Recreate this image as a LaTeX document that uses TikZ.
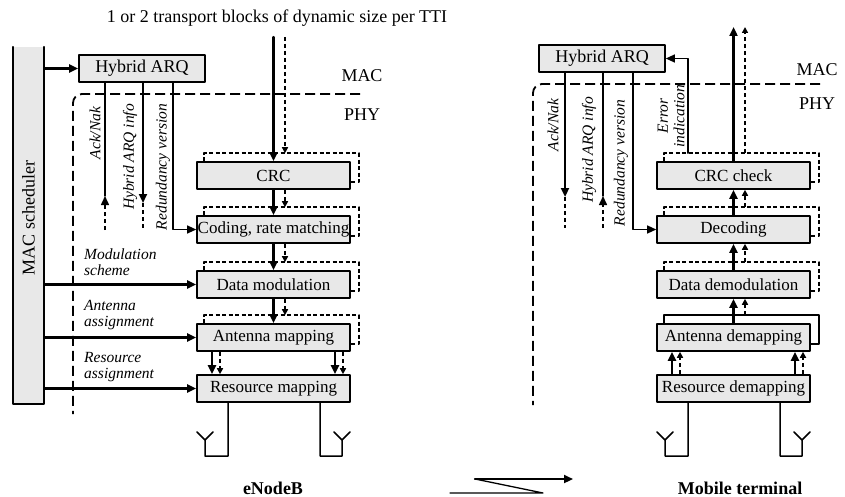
\documentclass[tikz,border=0pt]{standalone}
\usepackage{fontspec}
\setmainfont{Liberation Serif}
\usetikzlibrary{arrows.meta}

\tikzset{
  blk/.style={draw,line width=1.6pt,fill=black!9,minimum width=153pt,minimum height=27pt,inner sep=0pt,font=\fontsize{17}{20}\selectfont},
  harq/.style={blk,minimum width=126pt,font=\fontsize{18}{20}\selectfont},
  txt/.style={font=\fontsize{18}{20}\selectfont},
  lbl/.style={font=\fontsize{15.5}{16.5}\selectfont\itshape,inner sep=0pt},
  flow/.style={line width=2.2pt,->},
  ctrl/.style={line width=1.2pt,->},
  dline/.style={line width=1.5pt,line cap=butt,dash pattern=on 4pt off 3pt},
  dflow/.style={dline,-{Triangle[length=6pt,width=6pt]}},
  shade/.style={line width=1.5pt,line cap=butt,dash pattern=on 4pt off 2.5pt},
  layer/.style={line width=1.8pt,line cap=butt,dash pattern=on 10pt off 5pt},
}
\newcommand{\blkshade}[2][shade]{\draw[#1] ([xshift=8pt]#2.north west) |- ([xshift=8pt,yshift=8pt]#2.north east) |- ([yshift=8pt]#2.south east);}

\begin{document}
\begin{tikzpicture}[line cap=round,line join=round,>={Triangle[length=9pt,width=8pt]},x=1pt,y=-1pt]
\useasboundingbox (0,0) rectangle (845,497);

%% eNodeB side
\node[txt] (tbtxt) at (277,18) {1 or 2 transport blocks of dynamic size per TTI};
\node[fill=black!9,minimum width=31pt,minimum height=357pt,inner sep=0pt] (sched) at (28.5,225.5) {};
\draw[line width=1.6pt] (sched.north west) -- (sched.south west) -- (sched.south east) -- (sched.north east);
\node[txt,rotate=90] (schedlbl) at (28.5,218) {MAC scheduler};

\node[harq] (harqT) at (142,68.5) {Hybrid ARQ};
\node[blk] (crc) at (273.5,175.5) {CRC};
\node[blk] (coding) at (273.5,229.5) {Coding, rate matching};
\node[blk] (mod) at (273.5,284.5) {Data modulation};
\node[blk] (antmap) at (273.5,337.5) {Antenna mapping};
\node[blk] (resmap) at (273.5,388.5) {Resource mapping};
\foreach \nm in {crc,coding,mod,antmap} {\blkshade{\nm}}

\coordinate (layT0) at (360,94);
\coordinate (layT1) at (73,414);
\draw[layer,rounded corners=9pt] (layT0) -| (layT1);
\node[txt] (macT) at (362,76) {MAC};
\node[txt] (phyT) at (362,115) {PHY};

\draw[flow] (sched.east |- harqT) -- (harqT);
\coordinate (tbA) at (273.5,37);
\coordinate (tbB) at (285,37);
\draw[flow] (tbA) -- (crc);
\draw[dflow] (tbB) -- ([yshift=8pt]tbB |- crc.north);
\draw[flow] (crc) -- (coding);
\draw[flow] (coding) -- (mod);
\draw[flow] (mod) -- (antmap);
\draw[dflow] ([xshift=11.5pt]crc.south) -- ([xshift=11.5pt,yshift=8pt]coding.north);
\draw[dflow] ([xshift=11.5pt]coding.south) -- ([xshift=11.5pt,yshift=8pt]mod.north);
\draw[dflow] ([xshift=11.5pt]mod.south) -- ([xshift=11.5pt,yshift=8pt]antmap.north);
\foreach \dx in {-61.5,61.5} {
  \draw[flow] ([xshift=\dx pt]antmap.south) -- ([xshift=\dx pt]resmap.north);
  \draw[dflow] ([xshift=\dx pt+8pt]antmap.south) -- ([xshift=\dx pt+8pt]resmap.north);
}

% HARQ control, transmitter
\coordinate (ackT) at (105,196);
\coordinate (ackTd) at (105,230);
\coordinate (infoT) at (143,203);
\coordinate (infoTd) at (143,230);
\coordinate (rvT) at (173,0);
\draw[line width=1.2pt] (harqT.south -| ackT) -- (ackT);
\draw[dline,->] (ackTd) -- (ackT);
\draw[flow] (harqT.south -| infoT) -- (infoT);
\draw[dline] (infoT) -- (infoTd);
\draw[ctrl] (harqT.south -| rvT) |- (coding);
\node[lbl,rotate=90] (ackTl) at (95,133) {Ack/Nak};
\node[lbl,rotate=90] (infoTl) at (130,157) {Hybrid ARQ info};
\node[lbl,rotate=90] (rvTl) at (163,167) {Redundancy version};

\draw[flow] (sched.east |- mod) -- (mod);
\draw[flow] (sched.east |- antmap) -- (antmap);
\draw[flow] (sched.east |- resmap) -- (resmap);
\node[lbl,align=left,anchor=west] (modl) at (84,262) {Modulation\\scheme};
\node[lbl,align=left,anchor=west] (antl) at (84,315) {Antenna\\assignment};
\node[lbl,align=left,anchor=west] (resl) at (84,367) {Resource\\assignment};

%% mobile terminal side
\node[harq] (harqR) at (602,58.5) {Hybrid ARQ};
\node[blk] (crcchk) at (733.5,175.5) {CRC check};
\node[blk] (decod) at (733.5,229.5) {Decoding};
\node[blk] (demod) at (733.5,284.5) {Data demodulation};
\node[blk] (antdemap) at (733.5,337.5) {Antenna demapping};
\node[blk] (resdemap) at (733.5,388.5) {Resource demapping};
\foreach \nm in {crcchk,decod,demod} {\blkshade{\nm}}
\blkshade[line width=1.5pt]{antdemap}

\coordinate (layR0) at (820,84);
\coordinate (layR1) at (533,405);
\draw[layer,rounded corners=9pt] (layR0) -| (layR1);
\node[txt] (macR) at (817,70) {MAC};
\node[txt] (phyR) at (817,104) {PHY};

\coordinate (outA) at (733.5,27);
\coordinate (outB) at (745,27);
\draw[flow] (crcchk) -- (outA);
\draw[dflow] ([xshift=11.5pt,yshift=8pt]crcchk.north) -- (outB);
\draw[flow] (decod) -- (crcchk);
\draw[flow] (demod) -- (decod);
\draw[flow] (antdemap) -- (demod);
\draw[dflow] ([xshift=11.5pt,yshift=8pt]decod.north) -- ([xshift=11.5pt]crcchk.south);
\draw[dflow] ([xshift=11.5pt,yshift=8pt]demod.north) -- ([xshift=11.5pt]decod.south);
\draw[dflow] ([xshift=11.5pt,yshift=8pt]antdemap.north) -- ([xshift=11.5pt]demod.south);
\foreach \dx in {-61.5,61.5} {
  \draw[flow] ([xshift=\dx pt]resdemap.north) -- ([xshift=\dx pt]antdemap.south);
  \draw[dflow] ([xshift=\dx pt+8pt]resdemap.north) -- ([xshift=\dx pt+8pt]antdemap.south);
}

% HARQ control, receiver
\coordinate (ackR) at (565,197);
\coordinate (ackRd) at (565,228);
\coordinate (infoR) at (603,196);
\coordinate (infoRd) at (603,228);
\coordinate (rvR) at (633,0);
\coordinate (errR) at (688,0);
\draw[flow] (harqR.south -| ackR) -- (ackR);
\draw[dline] (ackR) -- (ackRd);
\draw[line width=1.2pt] (harqR.south -| infoR) -- (infoR);
\draw[dline,->] (infoRd) -- (infoR);
\draw[ctrl] (harqR.south -| rvR) |- (decod);
\draw[ctrl] ([yshift=8pt]errR |- crcchk.north) |- (harqR);
\node[lbl,rotate=90] (ackRl) at (553,125) {Ack/Nak};
\node[lbl,rotate=90] (infoRl) at (589,150) {Hybrid ARQ info};
\node[lbl,rotate=90] (rvRl) at (621,163) {Redundancy version};
\node[lbl,rotate=90,align=center] (errRl) at (671,116) {Error\\indication};

% antennas
\foreach \nm/\dx/\ax in {resmap/-45.5/205,resmap/46.5/342,resdemap/-45.5/665,resdemap/46.5/802} {
  \coordinate (ant) at (\ax,440);
  \draw[line width=1.5pt] ([xshift=\dx pt]\nm.south) |- ([yshift=-16pt]ant) -- (ant) -- ++(-8,-8) (ant) -- ++(8,-8);
}

% radio link
\coordinate (rlA) at (450,493);
\coordinate (rlB) at (543,493);
\coordinate (rlC) at (475,479);
\coordinate (rlD) at (573,479);
\draw[line width=1.3pt] (rlA) -- (rlB) -- (rlC);
\draw[flow] (rlC) -- (rlD);

\node[txt,font=\fontsize{18}{20}\selectfont\bfseries] (enb) at (273,488) {eNodeB};
\node[txt,font=\fontsize{18}{20}\selectfont\bfseries] (ue) at (740,488) {Mobile terminal};
\end{tikzpicture}
\end{document}
